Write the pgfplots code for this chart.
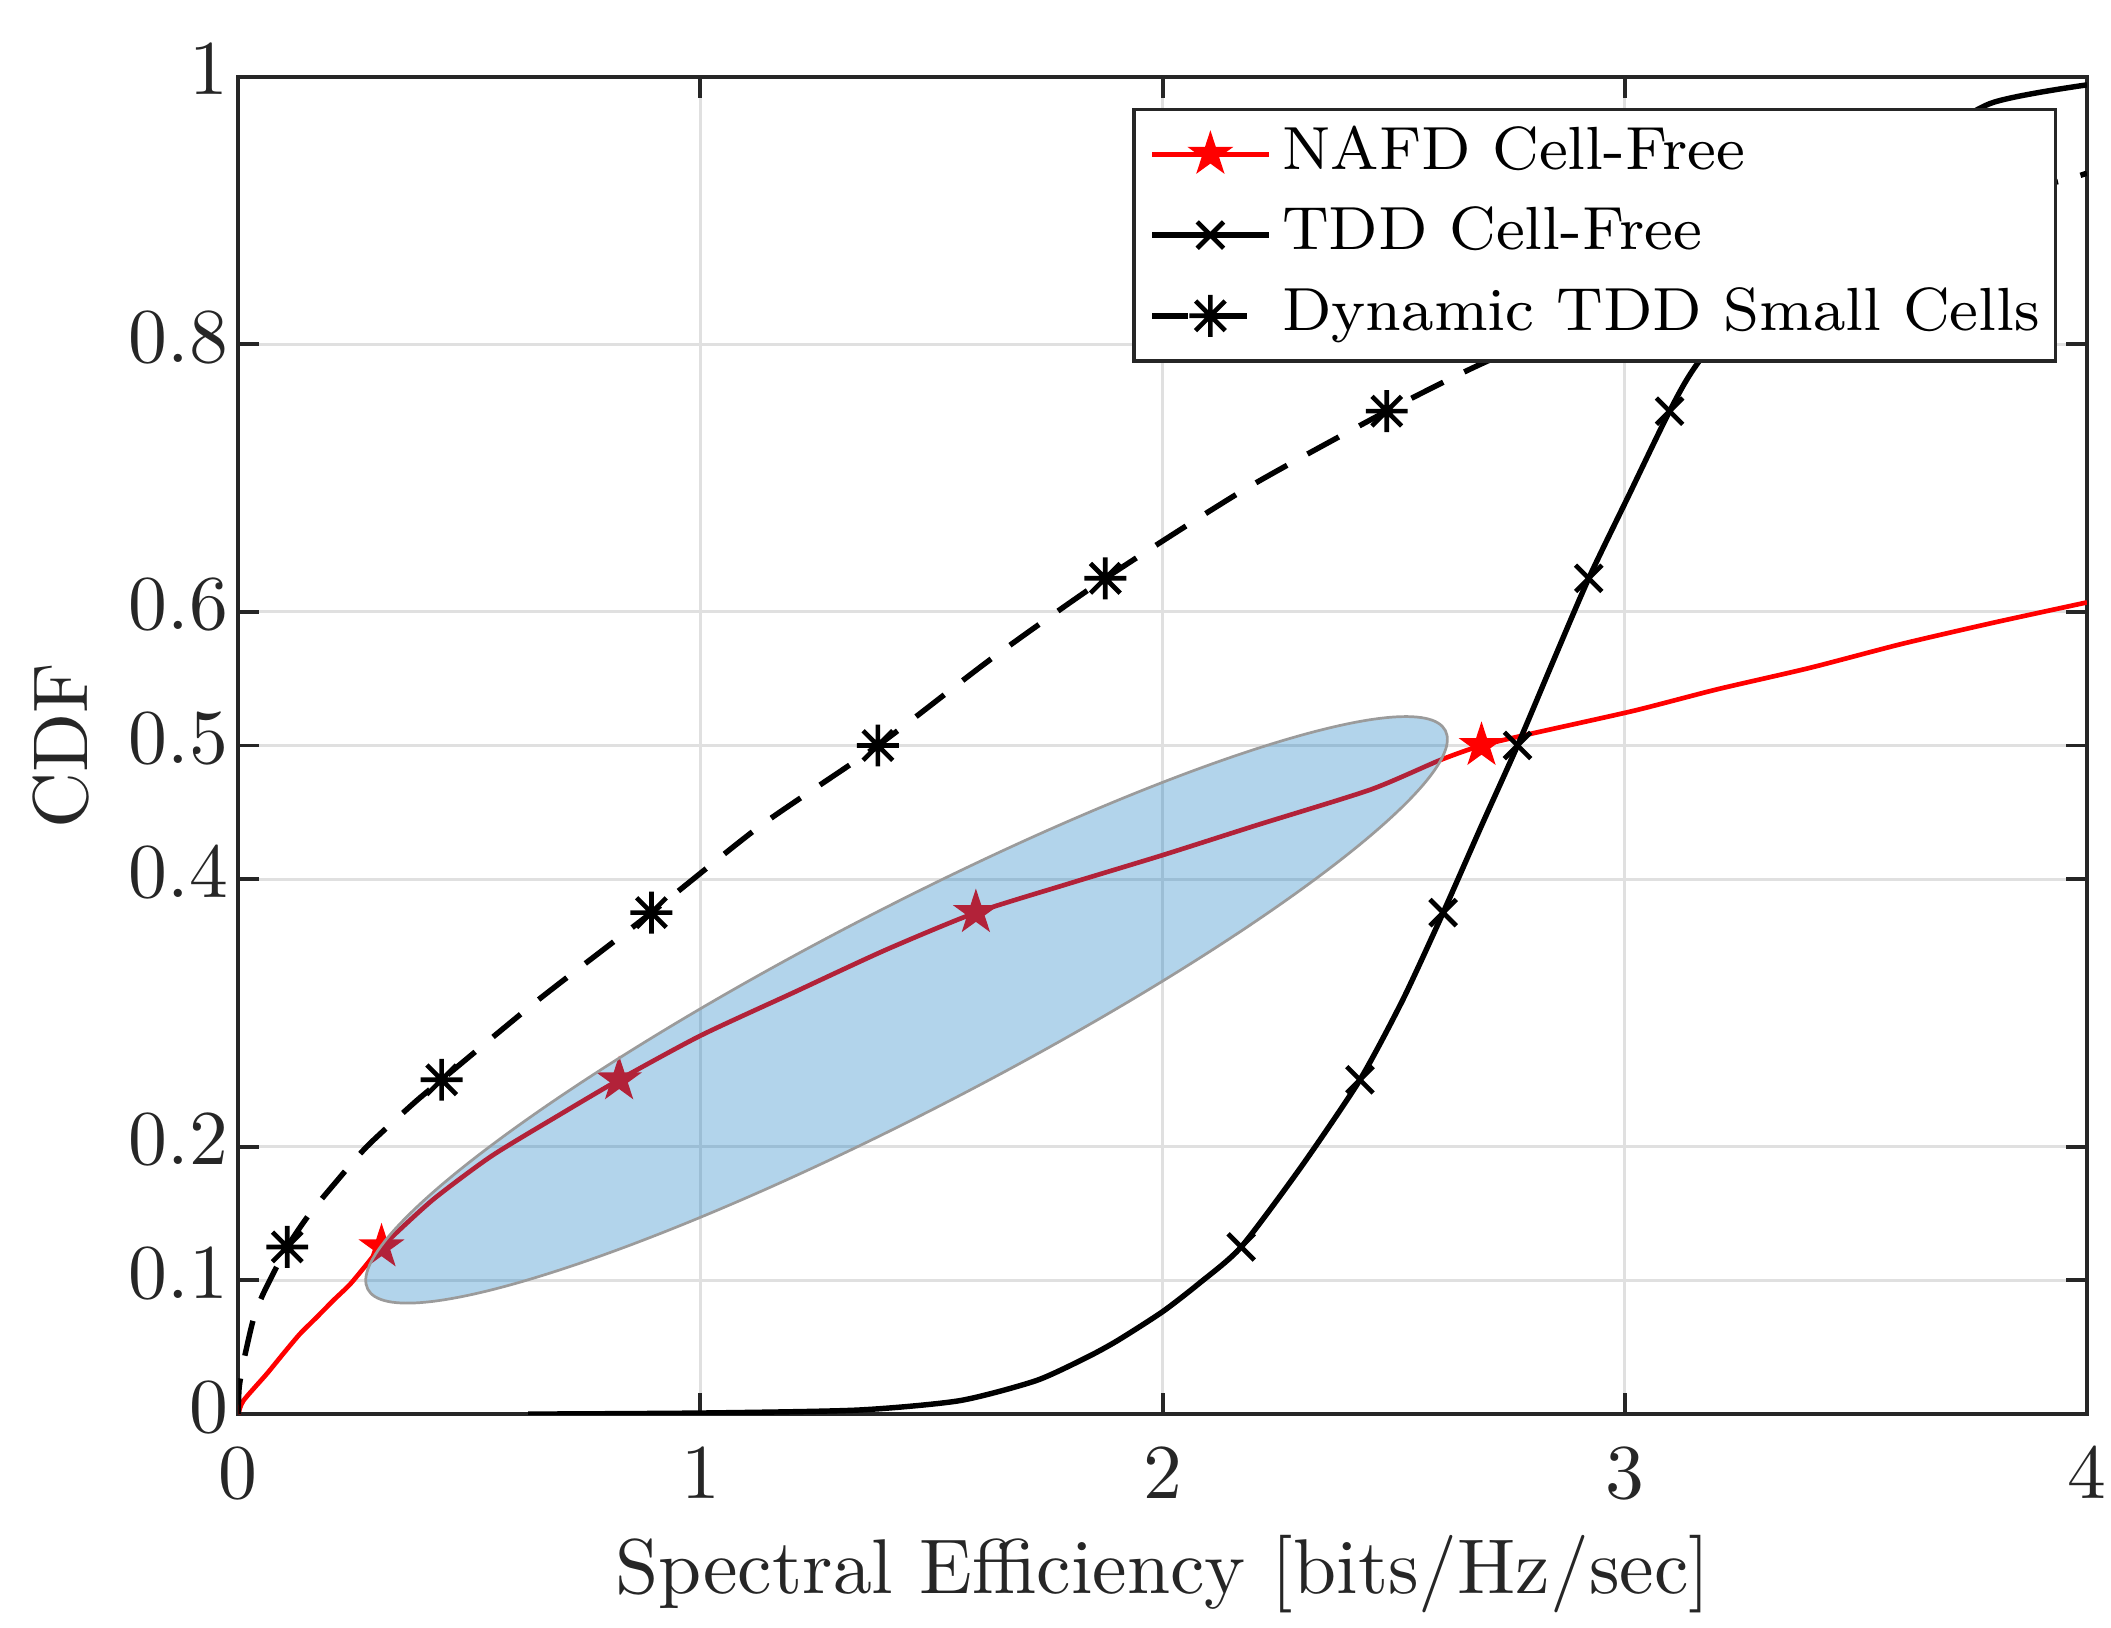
\documentclass[border=0pt]{standalone}
\usepackage{pgfplots}
\pgfplotsset{compat=1.18}
\usetikzlibrary{calc,shapes.geometric}

\definecolor{matBlue}{rgb}{0,0.447,0.741}
\definecolor{axisGray}{rgb}{0.15,0.15,0.15}
\definecolor{edgeGray}{RGB}{155,155,155}
\definecolor{gridGray}{RGB}{224,224,224}

% MATLAB-like filled pentagram
\pgfdeclareplotmark{pentastar}{%
  \pgfpathmoveto{\pgfpointpolar{90}{\pgfplotmarksize}}%
  \pgfpathlineto{\pgfpointpolar{126}{0.382\pgfplotmarksize}}%
  \pgfpathlineto{\pgfpointpolar{162}{\pgfplotmarksize}}%
  \pgfpathlineto{\pgfpointpolar{198}{0.382\pgfplotmarksize}}%
  \pgfpathlineto{\pgfpointpolar{234}{\pgfplotmarksize}}%
  \pgfpathlineto{\pgfpointpolar{270}{0.382\pgfplotmarksize}}%
  \pgfpathlineto{\pgfpointpolar{306}{\pgfplotmarksize}}%
  \pgfpathlineto{\pgfpointpolar{342}{0.382\pgfplotmarksize}}%
  \pgfpathlineto{\pgfpointpolar{18}{\pgfplotmarksize}}%
  \pgfpathlineto{\pgfpointpolar{54}{0.382\pgfplotmarksize}}%
  \pgfpathclose
  \pgfusepathqfillstroke}
% MATLAB-like asterisk (plus + cross)
\pgfdeclareplotmark{ast8}{%
  \pgfpathmoveto{\pgfqpoint{0pt}{\pgfplotmarksize}}\pgfpathlineto{\pgfqpoint{0pt}{-\pgfplotmarksize}}%
  \pgfpathmoveto{\pgfqpoint{\pgfplotmarksize}{0pt}}\pgfpathlineto{\pgfqpoint{-\pgfplotmarksize}{0pt}}%
  \pgfpathmoveto{\pgfpoint{0.707\pgfplotmarksize}{0.707\pgfplotmarksize}}\pgfpathlineto{\pgfpoint{-0.707\pgfplotmarksize}{-0.707\pgfplotmarksize}}%
  \pgfpathmoveto{\pgfpoint{-0.707\pgfplotmarksize}{0.707\pgfplotmarksize}}\pgfpathlineto{\pgfpoint{0.707\pgfplotmarksize}{-0.707\pgfplotmarksize}}%
  \pgfusepathqstroke}

\begin{document}
\begin{tikzpicture}
\begin{axis}[
    scale only axis, width=238.2pt, height=172.3pt,
    xmin=0, xmax=4, ymin=0, ymax=1,
    xtick={0,1,2,3,4},
    ytick={0,0.1,0.2,0.4,0.5,0.6,0.8,1},
    grid=major, major grid style={draw=gridGray, line width=0.4pt},
    axis line style={draw=axisGray, line width=0.5pt},
    tick style={draw=axisGray, line width=0.5pt},
    major tick length=2.7pt,
    tick label style={font=\fontsize{10}{12}\selectfont, text=axisGray},
    x tick label style={yshift=-0.95pt},
    y tick label style={yshift=0.9pt, xshift=2.2pt},
    label style={font=\fontsize{10}{12}\selectfont, text=axisGray},
    xlabel={Spectral Efficiency [bits/Hz/sec]},
    ylabel={CDF},
    x label style={at={(axis description cs:0.5,-0.1195)}, anchor=center},
    y label style={at={(axis description cs:-0.0961,0.5)}, anchor=center},
    legend style={at={(rel axis cs:0.984,0.977)}, anchor=north east,
        draw=axisGray, line width=0.45pt, fill=white,
        font=\fontsize{7.85}{9.5}\selectfont,
        inner xsep=2pt, inner ysep=0.6pt, column sep=1.4pt, row sep=0pt,
        nodes={inner xsep=0pt, inner ysep=1pt, text height=6.1pt, text depth=2.3pt}},
    legend cell align=left,
]
% NAFD Cell-Free
\addplot[red, line width=0.6pt, smooth, tension=0.4,
    legend image code/.code={
        \draw[red, line width=0.6pt] (0pt,0pt) -- (15pt,0pt);
        \draw[red, fill=red, line width=0.5pt] plot[mark=pentastar, mark size=2.3pt] coordinates {(7.5pt,0pt)};}]
coordinates {
 (0,0) (0.011,0.01) (0.0615,0.03) (0.097,0.045) (0.1335,0.06) (0.17,0.0725)
 (0.2056,0.085) (0.2417,0.097) (0.278,0.112) (0.31,0.125) (0.42,0.16)
 (0.548,0.193) (0.696,0.224) (0.824,0.25) (1.0,0.283) (1.2,0.315) (1.4,0.347)
 (1.596,0.375) (1.8,0.397) (2.0,0.418) (2.2,0.44) (2.45,0.467) (2.6,0.489)
 (2.69,0.5) (2.8,0.509) (3.02,0.526) (3.2,0.542) (3.4,0.558) (3.6,0.576)
 (3.8,0.592) (4.0,0.607)
};
\addlegendentry{NAFD Cell-Free}
% TDD Cell-Free
\addplot[black, line width=0.7pt, smooth, tension=0.4,
    legend image code/.code={
        \draw[black, line width=0.7pt] (0pt,0pt) -- (15pt,0pt);
        \draw[black, line width=0.6pt] plot[mark=x, mark size=2.4pt] coordinates {(7.5pt,0pt)};}]
coordinates {
 (0.627,0) (1.0,0.0008) (1.339,0.003) (1.56,0.010) (1.726,0.025) (1.837,0.0426)
 (1.903,0.0551) (2.0,0.0766) (2.08,0.098) (2.17,0.125) (2.3,0.185) (2.427,0.25)
 (2.52,0.31) (2.607,0.375) (2.69,0.44) (2.768,0.5) (2.845,0.563) (2.922,0.625)
 (3.01,0.688) (3.097,0.75) (3.16,0.787) (3.36,0.875) (3.45,0.9) (3.6,0.94)
 (3.79,0.98) (4.0,0.994)
};
\addlegendentry{TDD Cell-Free}
% Dynamic TDD Small Cells
\addplot[black, line width=0.7pt, dash pattern=on 4.6pt off 3pt, smooth, tension=0.4,
    legend image code/.code={
        \draw[black, line width=0.7pt, dash pattern=on 4.6pt off 3pt] (0pt,0pt) -- (15pt,0pt);
        \draw[black, line width=0.6pt, solid] plot[mark=ast8, mark size=2.7pt] coordinates {(7.5pt,0pt)};}]
coordinates {
 (0,0) (0.002,0.02) (0.012,0.04) (0.032,0.07) (0.054,0.09) (0.106,0.125)
 (0.155,0.15) (0.21,0.173) (0.278,0.2) (0.378,0.232) (0.44,0.25) (0.65,0.31)
 (0.894,0.375) (1.13,0.44) (1.384,0.5) (1.63,0.565) (1.876,0.625) (2.18,0.692)
 (2.485,0.75) (2.7,0.787) (3.0,0.83) (3.35,0.875) (3.7,0.905) (3.935,0.9215)
 (4.0,0.928)
};
\addlegendentry{Dynamic TDD Small Cells}
% markers
\addplot[only marks, forget plot, red, fill=red, line width=0.5pt, mark=pentastar, mark size=2.3pt]
coordinates {(0.31,0.125) (0.824,0.25) (1.596,0.375) (2.69,0.5)};
\addplot[only marks, forget plot, black, line width=0.6pt, mark=x, mark size=2.4pt]
coordinates {(2.17,0.125) (2.427,0.25) (2.607,0.375) (2.768,0.5) (2.922,0.625) (3.097,0.75) (3.36,0.875)};
\addplot[only marks, forget plot, black, line width=0.6pt, mark=ast8, mark size=2.7pt]
coordinates {(0.106,0.125) (0.44,0.25) (0.894,0.375) (1.384,0.5) (1.876,0.625) (2.485,0.75) (3.35,0.875)};
\coordinate (ellc) at (axis cs:1.446,0.3023);
\end{axis}
% highlighted region, drawn over lines and markers
\node[ellipse, draw=edgeGray, line width=0.35pt,
      fill=matBlue, fill opacity=0.3, draw opacity=1,
      minimum width=156.4pt, minimum height=25.9pt, inner sep=0pt, rotate=27.4]
      at (ellc) {};
\pgfresetboundingbox
\path[use as bounding box] ($(current axis.south west)+(-30.7pt,-27.5pt)$) rectangle ($(current axis.north east)+(3.1pt,9.9pt)$);
\end{tikzpicture}
\end{document}
